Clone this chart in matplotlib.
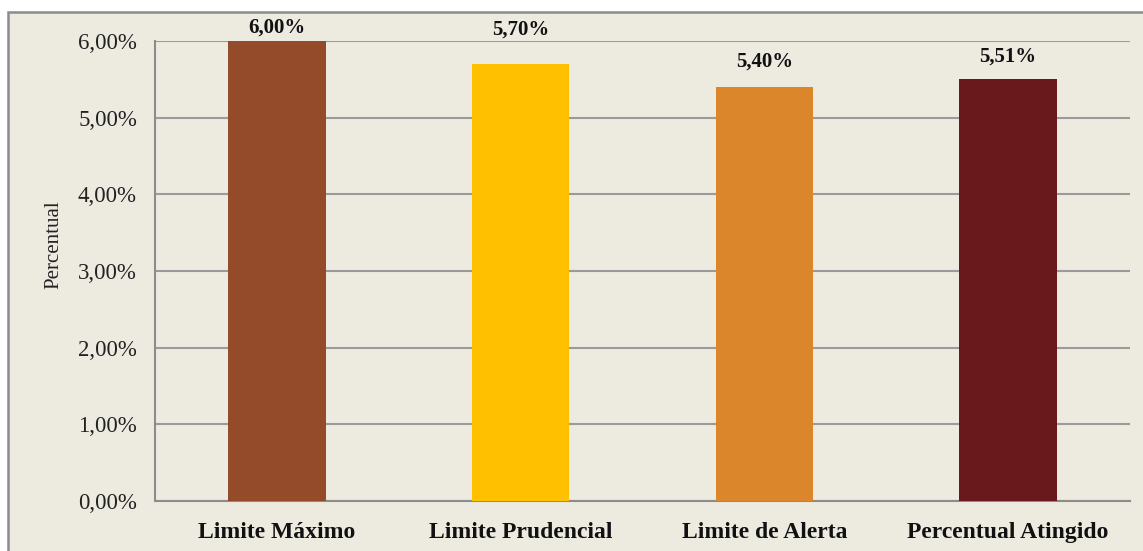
import matplotlib.pyplot as plt
from matplotlib.patches import Rectangle
from matplotlib.ticker import FuncFormatter

categorias = ["Limite Máximo", "Limite Prudencial", "Limite de Alerta", "Percentual Atingido"]
valores = [6.00, 5.70, 5.40, 5.51]
cores = ["#934B29", "#FFC000", "#DB862B", "#69191B"]
# deslocamento vertical de cada rótulo (pontos)
desloc = [10, 25, 18, 16]

plt.rcParams['font.family'] = ['Liberation Serif', 'DejaVu Serif']

fig = plt.figure(figsize=(11.43, 5.51), dpi=100)
fig.patch.set_facecolor("white")
fundo = Rectangle((8 / 1143, -0.1), 1.2, 1 - 12 / 551 + 0.1,
                  transform=fig.transFigure, facecolor="#EDEAE0",
                  edgecolor="#8C8C8C", linewidth=1.8, zorder=-10)
fig.add_artist(fundo)

ax = fig.add_axes([155 / 1143, 50 / 551, 975 / 1143, 460 / 551])
ax.set_facecolor("none")

x = range(len(categorias))
ax.bar(x, valores, width=0.4, color=cores, zorder=3)

for i, v in enumerate(valores):
    ax.annotate(f"{v:.2f}%".replace(".", ","), (i, v), xytext=(0, desloc[i]),
                textcoords="offset points", ha="center", va="center",
                fontsize=15, fontweight="bold", color="#111111")

ax.set_ylim(0, 6)
ax.set_xlim(-0.5, 3.5)
ax.set_yticks([0, 1, 2, 3, 4, 5, 6])
ax.yaxis.set_major_formatter(FuncFormatter(lambda v, p: f"{v:.2f}%".replace(".", ",")))
ax.set_xticks(list(x))
ax.set_xticklabels(categorias, fontweight="bold", fontsize=17)
ax.tick_params(axis="y", labelsize=16.5, length=0, pad=13, colors="#222222")
ax.tick_params(axis="x", length=0, pad=15, colors="#111111")
ax.grid(axis="y", color="#9A9A9A", linewidth=1.5, zorder=1)
ax.set_ylabel("Percentual", fontsize=15, color="#222222")
ax.yaxis.set_label_coords(-0.094, 0.557)

for s in ["top", "right"]:
    ax.spines[s].set_visible(False)
for s in ["left", "bottom"]:
    ax.spines[s].set_color("#8C8C8C")
    ax.spines[s].set_linewidth(1.5)

fig.savefig("out.png", dpi=100)
